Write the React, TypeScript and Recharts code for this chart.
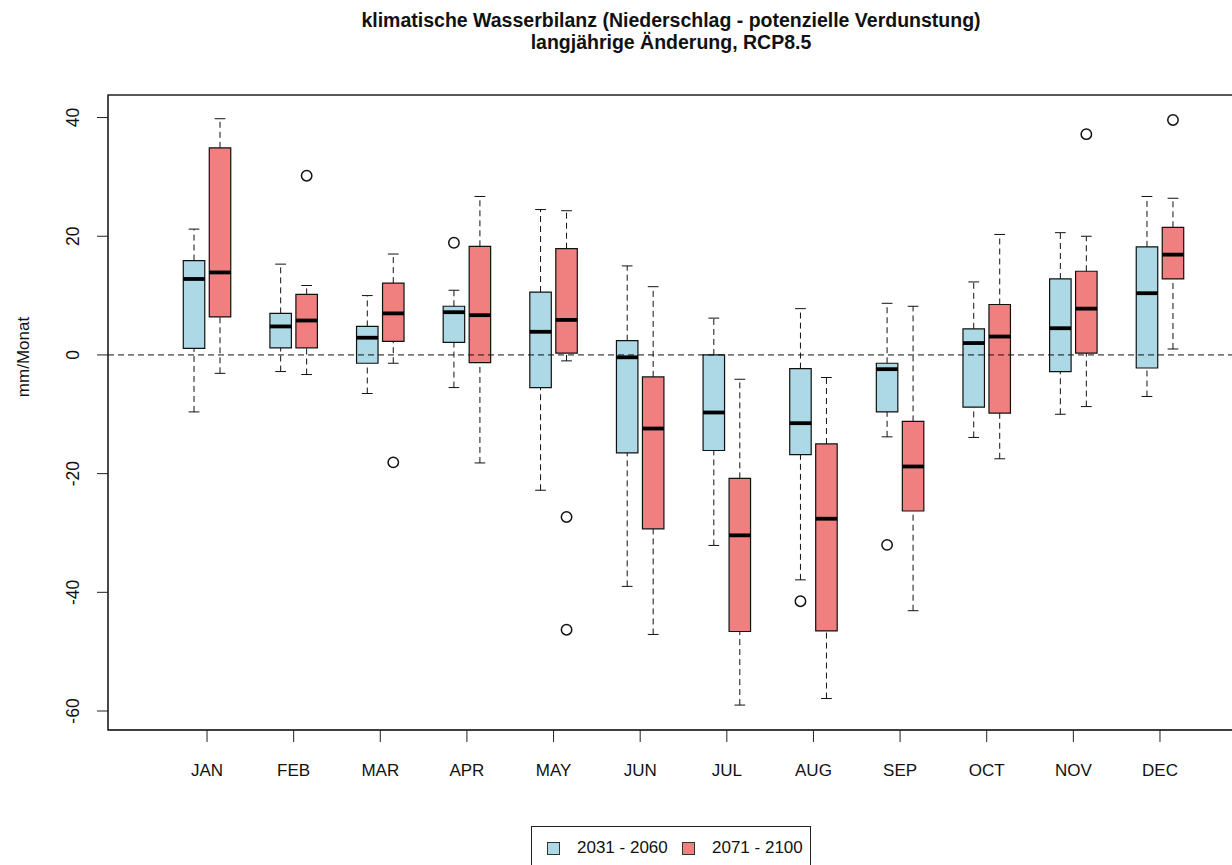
import {
  ComposedChart,
  XAxis,
  YAxis,
  Scatter,
  ReferenceArea,
  ReferenceLine,
} from 'recharts'

const months = ['JAN', 'FEB', 'MAR', 'APR', 'MAY', 'JUN', 'JUL', 'AUG', 'SEP', 'OCT', 'NOV', 'DEC']

// 2031 - 2060
const nearLow = [-9.6, -2.8, -6.5, -5.5, -22.8, -39.0, -32.1, -37.9, -13.8, -13.9, -10.0, -7.0]
const nearQ1 = [1.1, 1.2, -1.4, 2.1, -5.5, -16.5, -16.1, -16.8, -9.6, -8.8, -2.8, -2.2]
const nearMedian = [12.8, 4.8, 2.9, 7.2, 3.9, -0.4, -9.7, -11.5, -2.4, 2.0, 4.5, 10.4]
const nearQ3 = [15.9, 7.0, 4.8, 8.2, 10.6, 2.4, 0.0, -2.3, -1.4, 4.4, 12.8, 18.2]
const nearHigh = [21.2, 15.3, 10.0, 10.9, 24.5, 15.0, 6.2, 7.8, 8.7, 12.3, 20.6, 26.7]
const nearOutliers = [
  { month: 4, value: 18.9 },
  { month: 8, value: -41.5 },
  { month: 9, value: -32.0 },
]

// 2071 - 2100
const farLow = [-3.1, -3.3, -1.4, -18.2, -1.0, -47.1, -59.0, -57.9, -43.1, -17.5, -8.7, 1.0]
const farQ1 = [6.4, 1.2, 2.3, -1.3, 0.3, -29.3, -46.6, -46.5, -26.3, -9.8, 0.3, 12.8]
const farMedian = [13.9, 5.8, 7.0, 6.7, 5.9, -12.4, -30.4, -27.6, -18.8, 3.1, 7.8, 16.9]
const farQ3 = [34.9, 10.2, 12.1, 18.3, 17.9, -3.7, -20.8, -15.0, -11.2, 8.5, 14.1, 21.5]
const farHigh = [39.8, 11.7, 17.0, 26.7, 24.3, 11.5, -4.1, -3.8, 8.2, 20.3, 20.0, 26.4]
const farOutliers = [
  { month: 2, value: 30.2 },
  { month: 3, value: -18.1 },
  { month: 5, value: -27.3 },
  { month: 5, value: -46.3 },
  { month: 11, value: 37.2 },
  { month: 12, value: 39.6 },
]

const yTicks = [-60, -40, -20, 0, 20, 40]

const X_MIN = -0.143
const X_MAX = 13.143
const Y_MIN = -63.2
const Y_MAX = 43.8
const HALF = 0.124
const FONT = '"Liberation Sans", Arial, sans-serif'

const periods = [
  { name: '2031 - 2060', fill: '#ADD8E6', offset: -0.15, low: nearLow, q1: nearQ1, med: nearMedian, q3: nearQ3, high: nearHigh, outliers: nearOutliers },
  { name: '2071 - 2100', fill: '#F08080', offset: 0.15, low: farLow, q1: farQ1, med: farMedian, q3: farQ3, high: farHigh, outliers: farOutliers },
]

function YTick(props: any) {
  const { y, payload } = props
  return (
    <text transform={`translate(79,${y}) rotate(-90)`} textAnchor="middle" fontSize={17.5} fontFamily={FONT} fill="#111">
      {payload.value}
    </text>
  )
}

function XTick(props: any) {
  const { x, payload } = props
  return (
    <text x={x} y={776} textAnchor="middle" fontSize={17} fontFamily={FONT} fill="#111">
      {months[payload.value - 1]}
    </text>
  )
}

function Outlier(props: any) {
  const { cx, cy } = props
  return <circle cx={cx} cy={cy} r={5.2} fill="none" stroke="#111" strokeWidth={1.5} />
}

export default function App() {
  const boxes: any[] = []
  periods.forEach((p, pi) => {
    months.forEach((m, i) => {
      const x = i + 1 + p.offset
      const key = `${pi}-${i}`
      // whiskers and staples
      boxes.push(
        <ReferenceLine key={`wl${key}`} segment={[{ x, y: p.low[i] }, { x, y: p.q1[i] }]} stroke="#111" strokeDasharray="6 4" />,
        <ReferenceLine key={`wh${key}`} segment={[{ x, y: p.q3[i] }, { x, y: p.high[i] }]} stroke="#111" strokeDasharray="6 4" />,
        <ReferenceLine key={`cl${key}`} segment={[{ x: x - HALF / 2, y: p.low[i] }, { x: x + HALF / 2, y: p.low[i] }]} stroke="#111" />,
        <ReferenceLine key={`ch${key}`} segment={[{ x: x - HALF / 2, y: p.high[i] }, { x: x + HALF / 2, y: p.high[i] }]} stroke="#111" />,
        <ReferenceArea key={`b${key}`} x1={x - HALF} x2={x + HALF} y1={p.q1[i]} y2={p.q3[i]} fill={p.fill} fillOpacity={1} stroke="#111" strokeWidth={1.2} />,
      )
    })
  })
  const medians: any[] = []
  periods.forEach((p, pi) => {
    months.forEach((m, i) => {
      const x = i + 1 + p.offset
      medians.push(
        <ReferenceLine key={`m${pi}-${i}`} segment={[{ x: x - HALF, y: p.med[i] }, { x: x + HALF, y: p.med[i] }]} stroke="#000" strokeWidth={3.8} />,
      )
    })
  })

  return (
    <div style={{ position: 'absolute', left: 0, top: 0, width: 1232, height: 865, overflow: 'hidden', background: '#fff', fontFamily: FONT }}>
      <div style={{ position: 'absolute', left: 0, width: 1342, top: 9, textAlign: 'center', fontWeight: 'bold', fontSize: 19.5, lineHeight: '22px', color: '#111' }}>
        klimatische Wasserbilanz (Niederschlag - potenzielle Verdunstung)
        <br />
        langjährige Änderung, RCP8.5
      </div>
      <div style={{ position: 'absolute', left: 0, top: 0 }}>
        <ComposedChart width={1320} height={865} margin={{ top: 95, right: 61, bottom: 95, left: 68 }}>
          <XAxis
            dataKey="x"
            type="number"
            domain={[X_MIN, X_MAX]}
            ticks={months.map((m, i) => i + 1)}
            tick={<XTick />}
            tickSize={12}
            height={40}
            stroke="#222"
            allowDataOverflow
          />
          <YAxis
            dataKey="y"
            type="number"
            domain={[Y_MIN, Y_MAX]}
            ticks={yTicks}
            tick={<YTick />}
            tickSize={11}
            width={40}
            stroke="#222"
            allowDataOverflow
          />
          <ReferenceArea x1={X_MIN} x2={X_MAX} y1={Y_MIN} y2={Y_MAX} fill="none" stroke="#222" strokeWidth={1.3} />
          {boxes}
          <ReferenceLine y={0} stroke="#111" strokeDasharray="6 4" />
          {medians}
          {periods.map((p) => (
            <Scatter
              key={p.name}
              name={p.name}
              data={p.outliers.map((o) => ({ x: o.month + p.offset, y: o.value }))}
              dataKey="y"
              shape={<Outlier />}
              isAnimationActive={false}
            />
          ))}
        </ComposedChart>
      </div>
      <div style={{ position: 'absolute', left: 0, top: 0, width: 50, height: 865 }}>
        <svg width={50} height={865}>
          <text transform="translate(29,357) rotate(-90)" textAnchor="middle" fontSize={17} fontFamily={FONT} fill="#111">
            mm/Monat
          </text>
        </svg>
      </div>
      <div style={{ position: 'absolute', left: 531, top: 826, width: 280, height: 50, border: '1px solid #222', boxSizing: 'border-box', background: '#fff' }}>
        {periods.map((p, i) => (
          <div key={p.name} style={{ position: 'absolute', top: 11, left: i === 0 ? 15 : 150, display: 'flex', alignItems: 'center', fontSize: 17, color: '#111' }}>
            <span style={{ display: 'inline-block', width: 11, height: 11, border: '1px solid #333', background: p.fill, marginRight: 17 }} />
            {p.name}
          </div>
        ))}
      </div>
    </div>
  )
}
